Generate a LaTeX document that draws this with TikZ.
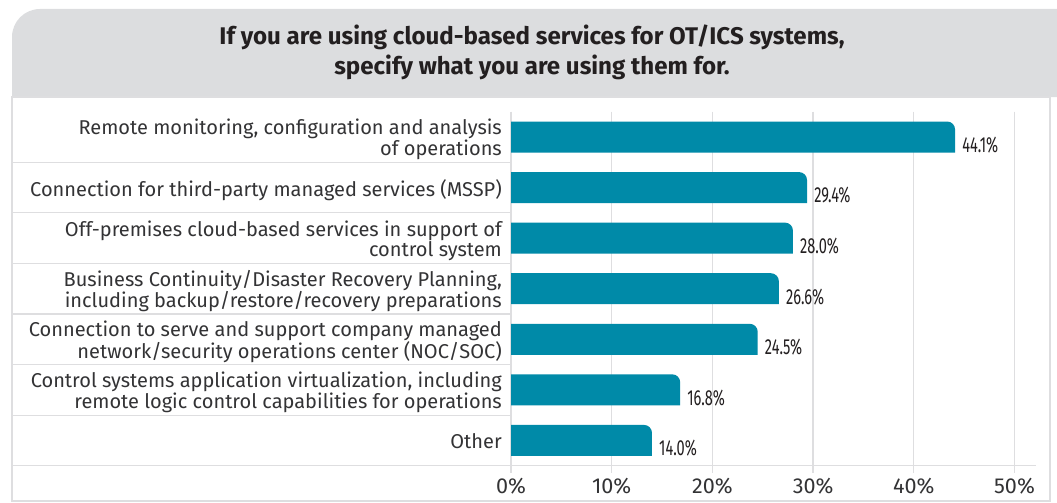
\documentclass[tikz,border=0pt]{standalone}
\usepackage{xcolor}
\usepackage{fontspec}
\usepackage{tikz}
\usetikzlibrary{positioning, calc}
\setmainfont{Fira Sans}
\newfontfamily\valuefont[FakeStretch=0.67]{Fira Sans}
\definecolor{barteal}{RGB}{0,138,168}
\definecolor{hdrgray}{RGB}{220,221,223}
\definecolor{gridgray}{RGB}{222,222,224}
\definecolor{mytext}{RGB}{51,51,53}
\definecolor{mydark}{RGB}{35,31,32}
\tikzset{
  bar/.style={fill=barteal},
  gridline/.style={draw=gridgray, line width=1.3pt},
  sepline/.style={draw=gridgray, line width=1.2pt},
  catlabel/.style={anchor=east, align=right, inner sep=0pt, text=mytext,
    font=\fontsize{20}{20.7}\selectfont},
  vallabel/.style={anchor=base west, inner sep=0pt, xshift=7pt, text=mydark,
    font=\valuefont\fontsize{21.8}{22}\selectfont},
  ticklabel/.style={anchor=base, inner sep=0pt, text=mytext,
    font=\fontsize{21.6}{22}\selectfont},
  titlenode/.style={align=center, inner sep=0pt, text=mydark,
    font=\bfseries\fontsize{24.1}{29.7}\selectfont}
}

\begin{document}
\begin{tikzpicture}[x=1pt, y=-1pt]
  \useasboundingbox (0,0) rectangle (1057,503);

  % Header band, rounded only at the top left
  \fill[hdrgray] (12,97) -- (12,37) arc[start angle=180, end angle=90, radius=28pt]
    -- (1057,9) -- (1057,97) -- cycle;
  \node[titlenode] (title) at (532,52.4)
    {If you are using cloud-based services for OT/ICS systems,\\specify what you are using them for.};

  % White panel below the header
  \draw[sepline, fill=white] (12,97) rectangle (1050,501);

  % Row separators of the label column
  \draw[sepline] (12,162.3) -- (511,162.3);
  \draw[sepline] (12,212.8) -- (511,212.8);
  \draw[sepline] (12,263.4) -- (511,263.4);
  \draw[sepline] (12,314.0) -- (511,314.0);
  \draw[sepline] (12,364.6) -- (511,364.6);
  \draw[sepline] (12,415.1) -- (511,415.1);

  % Category labels
  \node[catlabel] (l1) at (502,139.6) {Remote monitoring, configuration and analysis\\of operations};
  \node[catlabel] (l2) at (502,190.2) {Connection for third-party managed services (MSSP)};
  \node[catlabel] (l3) at (502,240.7) {Off-premises cloud-based services in support of\\control system};
  \node[catlabel] (l4) at (502,291.3) {Business Continuity/Disaster Recovery Planning,\\including backup/restore/recovery preparations};
  \node[catlabel] (l5) at (502,341.9) {Connection to serve and support company managed\\network/security operations center (NOC/SOC)};
  \node[catlabel] (l6) at (502,392.4) {Control systems application virtualization, including\\remote logic control capabilities for operations};
  \node[catlabel] (l7) at (502,441.2) {Other};

  \begin{scope}[shift={(511,0)}, x=10.07pt]
    % Grid with tick labels (0% to 50%)
    \draw[gridline] (0,111.7) -- (0,473);
    \draw[gridline] (10,111.7) -- (10,473);
    \draw[gridline] (20,111.7) -- (20,473);
    \draw[gridline] (30,111.7) -- (30,473);
    \draw[gridline] (40,111.7) -- (40,473);
    \draw[gridline] (50,111.7) -- (50,473);
    \node[ticklabel] (t0) at (0,493.3) {0\%};
    \node[ticklabel] (t1) at (10,493.3) {10\%};
    \node[ticklabel] (t2) at (20,493.3) {20\%};
    \node[ticklabel] (t3) at (30,493.3) {30\%};
    \node[ticklabel] (t4) at (40,493.3) {40\%};
    \node[ticklabel] (t5) at (50,493.3) {50\%};

    % Bars, top right corner rounded
    \fill[bar] (0,121.5) -- ($(44.1,121.5)+(-8pt,0)$) arc[start angle=90, end angle=0, radius=8pt] -- (44.1,152.5) -- (0,152.5) -- cycle;
    \fill[bar] (0,172.1) -- ($(29.4,172.1)+(-8pt,0)$) arc[start angle=90, end angle=0, radius=8pt] -- (29.4,203.1) -- (0,203.1) -- cycle;
    \fill[bar] (0,222.6) -- ($(28.0,222.6)+(-8pt,0)$) arc[start angle=90, end angle=0, radius=8pt] -- (28.0,253.6) -- (0,253.6) -- cycle;
    \fill[bar] (0,273.2) -- ($(26.6,273.2)+(-8pt,0)$) arc[start angle=90, end angle=0, radius=8pt] -- (26.6,304.2) -- (0,304.2) -- cycle;
    \fill[bar] (0,323.8) -- ($(24.5,323.8)+(-8pt,0)$) arc[start angle=90, end angle=0, radius=8pt] -- (24.5,354.8) -- (0,354.8) -- cycle;
    \fill[bar] (0,374.3) -- ($(16.8,374.3)+(-8pt,0)$) arc[start angle=90, end angle=0, radius=8pt] -- (16.8,405.3) -- (0,405.3) -- cycle;
    \fill[bar] (0,424.9) -- ($(14.0,424.9)+(-8pt,0)$) arc[start angle=90, end angle=0, radius=8pt] -- (14.0,455.9) -- (0,455.9) -- cycle;

    % Value labels
    \node[vallabel] (v1) at (44.1,152.3) {44.1\%};
    \node[vallabel] (v2) at (29.4,202.9) {29.4\%};
    \node[vallabel] (v3) at (28.0,253.4) {28.0\%};
    \node[vallabel] (v4) at (26.6,304.0) {26.6\%};
    \node[vallabel] (v5) at (24.5,354.6) {24.5\%};
    \node[vallabel] (v6) at (16.8,405.1) {16.8\%};
    \node[vallabel] (v7) at (14.0,455.7) {14.0\%};
  \end{scope}

  % Value axis along the bottom
  \draw[sepline] (12,465.7) -- (1036,465.7);
\end{tikzpicture}
\end{document}
